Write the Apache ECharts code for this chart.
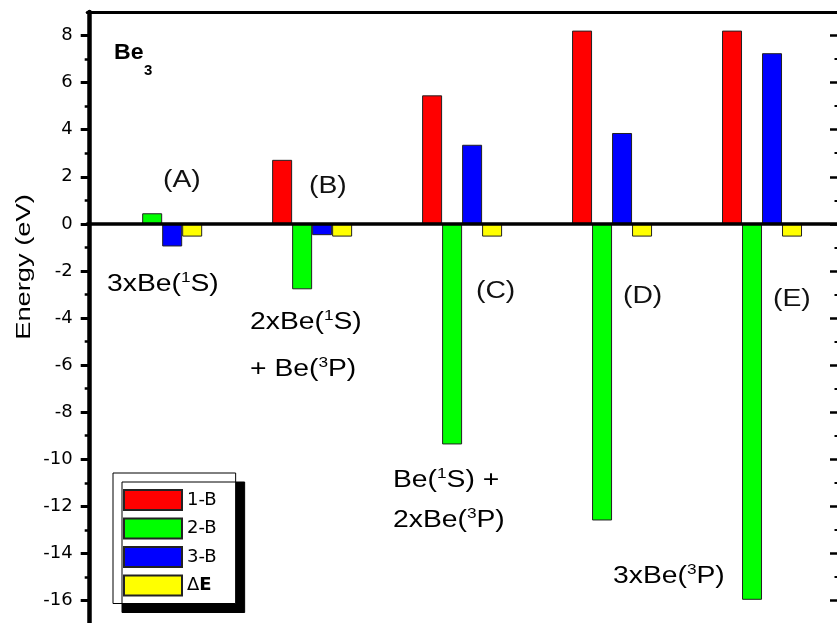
<!DOCTYPE html>
<html>
<head>
<meta charset="utf-8">
<script src="https://cdn.jsdelivr.net/npm/echarts@6/dist/echarts.min.js"></script>
<style>
  html, body { margin: 0; padding: 0; overflow: hidden; background: #fff; }
  #chart { width: 837px; height: 660px; }
</style>
</head>
<body>
<div id="chart"></div>
<script>
// Be3 dissociation channels: many-body energy terms (eV)
const channels = ['A', 'B', 'C', 'D', 'E'];
const oneBody = [0, 2.72, 5.46, 8.21, 8.21];
const twoBody = [0.45, -2.78, -9.37, -12.6, -15.97];
const threeBody = [-0.96, -0.48, 3.36, 3.86, 7.25];
const deltaE = [-0.54, -0.54, -0.54, -0.54, -0.54];
const seriesNames = ['1-B', '2-B', '3-B', 'ΔE'];
const seriesColors = ['#ff0000', '#00ff00', '#0000ff', '#ffff00'];

// energy axis ticks
const majorTicks = [-16, -14, -12, -10, -8, -6, -4, -2, 0, 2, 4, 6, 8];
const minorTicks = [-17, -15, -13, -11, -9, -7, -5, -3, -1, 1, 3, 5, 7];

// channel tags and asymptote labels
const channelTags = ['(A)', '(B)', '(C)', '(D)', '(E)'];
const limitLabels = [
  ['3xBe(', '1', 'S)'],
  ['2xBe(', '1', 'S)'],
  ['+ Be(', '3', 'P)'],
  ['Be(', '1', 'S) +'],
  ['2xBe(', '3', 'P)'],
  ['3xBe(', '3', 'P)']
];

const FONT = 'Liberation Sans';
const AXIS_FONT = 'DejaVu Sans';

const chart = echarts.init(document.getElementById('chart'));

const seriesData = [oneBody, twoBody, threeBody, deltaE];
const series = seriesNames.map((name, i) => ({
  name: name,
  type: 'bar',
  data: seriesData[i],
  barWidth: 20,
  barGap: '0%',
  itemStyle: { color: seriesColors[i], borderColor: '#222', borderWidth: 1 }
}));

const textRich = {
  n: { fontFamily: FONT, fontSize: 23, lineHeight: 27, color: '#111' },
  s: { fontFamily: FONT, fontSize: 14, verticalAlign: 'top', color: '#111' }
};

function tagText(str, x, y) {
  return {
    type: 'text', x: x, y: y, scaleX: 1.23, z: 20,
    style: { text: str, fontFamily: FONT, fontSize: 23, fill: '#111', align: 'left', verticalAlign: 'middle' }
  };
}
function limitText(parts, x, y) {
  return {
    type: 'text', x: x, y: y, scaleX: 1.23, z: 20,
    style: {
      text: '{n|' + parts[0] + '}{s|' + parts[1] + '}{n|' + parts[2] + '}',
      rich: textRich, align: 'left', verticalAlign: 'middle'
    }
  };
}

const tagPos = [[163, 181], [309, 187], [476, 292], [623, 297], [773, 300]];
const limitPos = [[107, 285], [250, 323], [250, 370], [393, 481], [393, 521], [613, 577]];

const graphic = [
  {
    type: 'text', x: 24, y: 267, rotation: Math.PI / 2, scaleX: 1.3,
    style: { text: 'Energy (eV)', fontFamily: FONT, fontSize: 21, fill: '#000', align: 'center', verticalAlign: 'middle' }
  },
  {
    type: 'text', x: 114, y: 53, scaleX: 1.05,
    style: { text: 'Be', fontFamily: FONT, fontSize: 22, fontWeight: 'bold', fill: '#000', align: 'left', verticalAlign: 'middle' }
  },
  {
    type: 'text', x: 144, y: 71,
    style: { text: '3', fontFamily: FONT, fontSize: 15, fontWeight: 'bold', fill: '#000', align: 'left', verticalAlign: 'middle' }
  }
]
  .concat(channelTags.map((t, i) => tagText(t, tagPos[i][0], tagPos[i][1])))
  .concat(limitLabels.map((p, i) => limitText(p, limitPos[i][0], limitPos[i][1])));

function energyAxis(position, offset, tickValues, tickLen, tickWidth, inside, showLine, showLabel) {
  return {
    type: 'value', min: -18, max: 9, interval: 2, position: position, offset: offset,
    axisLine: { show: showLine, lineStyle: { color: '#000', width: 4.5 } },
    axisTick: { show: true, inside: inside, length: tickLen, customValues: tickValues,
      lineStyle: { color: '#000', width: tickWidth } },
    axisLabel: { show: showLabel, customValues: tickValues, fontFamily: AXIS_FONT, fontSize: 18,
      color: '#000', margin: 17 },
    splitLine: { show: false }
  };
}

chart.setOption({
  animation: false,
  backgroundColor: '#fff',
  grid: { left: 87.2, right: 0, top: 12, bottom: 12.4 },
  xAxis: [
    {
      type: 'category', data: channels, position: 'bottom', z: 10,
      axisLine: { onZero: true, lineStyle: { color: '#000', width: 3.5 } },
      axisTick: { show: false }, axisLabel: { show: false }, splitLine: { show: false }
    },
    {
      type: 'category', data: channels, position: 'top',
      axisLine: { onZero: false, lineStyle: { color: '#000', width: 3 } },
      axisTick: { show: false }, axisLabel: { show: false }, splitLine: { show: false }
    }
  ],
  yAxis: [
    energyAxis('left', -2.5, majorTicks, 9, 3, false, true, true),
    energyAxis('left', -2.5, minorTicks, 5, 2.5, false, false, false),
    energyAxis('right', 2, majorTicks, 9, 2.5, true, true, false),
    energyAxis('right', 2, minorTicks, 4.5, 2, true, false, false)
  ],
  legend: {
    orient: 'vertical', left: 113, top: 473, padding: [16, 19, 7, 10],
    itemWidth: 58, itemHeight: 20, itemGap: 6.5, icon: 'rect',
    backgroundColor: '#fff', borderColor: '#000', borderWidth: 1,
    shadowColor: '#000', shadowBlur: 0, shadowOffsetX: 9, shadowOffsetY: 9,
    selectedMode: false,
    data: seriesNames,
    textStyle: {
      fontFamily: AXIS_FONT, fontSize: 18, lineHeight: 20, color: '#000',
      rich: {
        d: { fontFamily: AXIS_FONT, fontSize: 18, lineHeight: 20, color: '#000' },
        e: { fontFamily: AXIS_FONT, fontSize: 18, lineHeight: 20, fontWeight: 'bold', color: '#000' }
      }
    },
    formatter: name => (name === 'ΔE' ? '{d|Δ}{e|E}' : name)
  },
  graphic: graphic,
  series: series
});
</script>
</body>
</html>
